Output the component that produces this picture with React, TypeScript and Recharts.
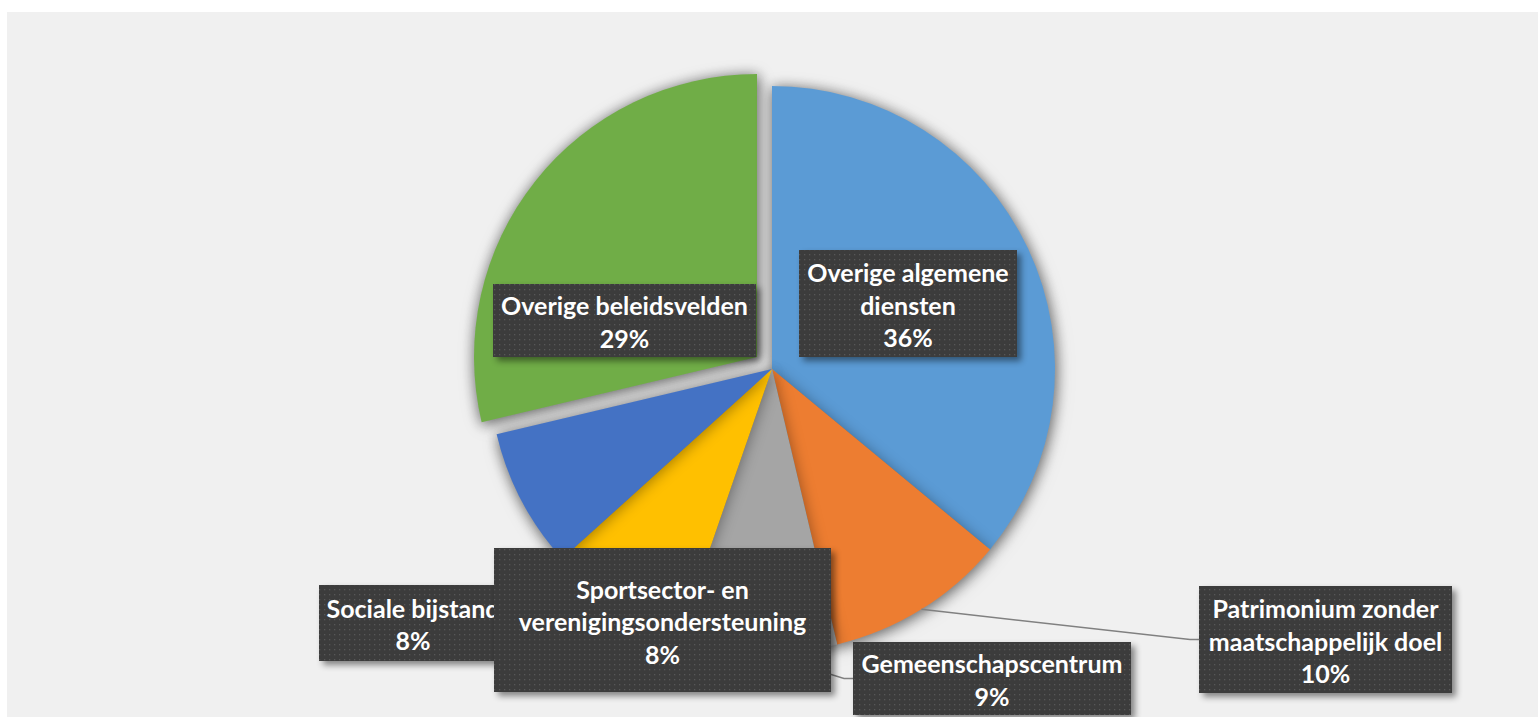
import React from 'react';
import { PieChart, Pie, Cell } from 'recharts';

// ---- data ----
const categories = [
  'Overige algemene\ndiensten',
  'Patrimonium zonder\nmaatschappelijk doel',
  'Gemeenschapscentrum',
  'Sportsector- en\nverenigingsondersteuning',
  'Sociale bijstand',
  'Overige beleidsvelden',
];
const shares = [36.0, 10.3, 9.0, 8.0, 8.0, 28.7];
const colors = ['#5B9BD5', '#ED7D31', '#A5A5A5', '#FFC000', '#4472C4', '#70AD47'];

const data = categories.map((name, i) => ({ name, value: shares[i] }));

// ---- layout ----
const W = 1531;
const H = 705;
const CX = 765;
const CY = 357;
const R = 283;
const EXPLODE = { dx: -15, dy: -12 };
const EXPLODED_INDEX = 5;
const TOP_LABEL_INDEX = 3;

// label box: centre offset from pie centre, size, leader line
const LABEL_BOX = [
  { dx: 136, dy: -65.5, w: 218, h: 107, leader: false },
  { dx: 553.5, dy: 270.5, w: 253, h: 107, leader: true },
  { dx: 220, dy: 309.5, w: 278, h: 73, leader: true },
  { dx: -109.5, dy: 251, w: 337, h: 144, leader: false },
  { dx: -359, dy: 254, w: 188, h: 76, leader: false },
  { dx: -147.5, dy: -48.5, w: 263, h: 73, leader: false },
];
const LINE_H = 32.5;
const RAD = Math.PI / 180;

const makeLabel = (show: (i: number) => boolean) => (props: any) => {
  const { cx, cy, midAngle, outerRadius, index, percent } = props;
  if (!show(index)) return null;
  const box = LABEL_BOX[index];
  const bx = cx + box.dx;
  const by = cy + box.dy;
  const left = bx - box.w / 2;
  const top = by - box.h / 2;
  const lines = [...categories[index].split('\n'), `${Math.round(percent * 100)}%`];
  const sx = cx + outerRadius * Math.cos(-midAngle * RAD);
  const sy = cy + outerRadius * Math.sin(-midAngle * RAD);
  return (
    <g key={`lbl-${index}`}>
      {box.leader && (
        <path
          d={`M${sx},${sy} L${left - 9},${by} L${left},${by}`}
          stroke="#808080"
          strokeWidth={1.5}
          fill="none"
        />
      )}
      <rect
        x={left}
        y={top}
        width={box.w}
        height={box.h}
        fill="url(#dotsPattern)"
        style={{ filter: 'drop-shadow(4px 4px 3px rgba(0,0,0,0.45))' }}
      />
      {lines.map((t, i) => (
        <text
          key={i}
          x={bx}
          y={by + 1 + (i - (lines.length - 1) / 2) * LINE_H}
          textAnchor="middle"
          dominantBaseline="central"
          fill="#ffffff"
          fontFamily="Lato, 'Open Sans', sans-serif"
          fontWeight={700}
          fontSize={25}
        >
          {t}
        </text>
      ))}
    </g>
  );
};

export default function App() {
  return (
    <div style={{ position: 'absolute', left: 0, top: 0, width: 1538, height: 717, background: '#ffffff', overflow: 'hidden' }}>
      <style>{`.pie-shadow { filter: drop-shadow(1px 2px 7px rgba(0,0,0,0.35)); }`}</style>
      <svg width={0} height={0} style={{ position: 'absolute' }}>
        <defs>
          <pattern id="dotsPattern" width={5} height={5} patternUnits="userSpaceOnUse">
            <rect width={5} height={5} fill="#3c3c3c" />
            <rect x={2} y={2} width={1.3} height={1.3} fill="#575757" />
          </pattern>
        </defs>
      </svg>
      <div style={{ position: 'absolute', left: 7, top: 12, width: W, height: H, background: '#f0f0f0' }}>
        <PieChart width={W} height={H} margin={{ top: 0, right: 0, bottom: 0, left: 0 }}>
          {/* exploded slice */}
          <Pie
            className="pie-shadow"
            data={data}
            dataKey="value"
            nameKey="name"
            cx={CX + EXPLODE.dx}
            cy={CY + EXPLODE.dy}
            outerRadius={R}
            startAngle={90}
            endAngle={-270}
            stroke="none"
            isAnimationActive={false}
            labelLine={false}
          >
            {data.map((d, i) => (
              <Cell key={i} fill={i === EXPLODED_INDEX ? colors[i] : 'none'} stroke="none" />
            ))}
          </Pie>
          {/* remaining slices */}
          <Pie
            className="pie-shadow"
            data={data}
            dataKey="value"
            nameKey="name"
            cx={CX}
            cy={CY}
            outerRadius={R}
            startAngle={90}
            endAngle={-270}
            stroke="none"
            isAnimationActive={false}
            labelLine={false}
          >
            {data.map((d, i) => (
              <Cell key={i} fill={i === EXPLODED_INDEX ? 'none' : colors[i]} stroke="none" />
            ))}
          </Pie>
          {/* labels */}
          <Pie
            data={data}
            dataKey="value"
            nameKey="name"
            cx={CX}
            cy={CY}
            outerRadius={R}
            startAngle={90}
            endAngle={-270}
            stroke="none"
            fill="none"
            isAnimationActive={false}
            labelLine={false}
            label={makeLabel((i) => i !== TOP_LABEL_INDEX)}
          >
            {data.map((d, i) => (
              <Cell key={i} fill="none" stroke="none" />
            ))}
          </Pie>
          <Pie
            data={data}
            dataKey="value"
            nameKey="name"
            cx={CX}
            cy={CY}
            outerRadius={R}
            startAngle={90}
            endAngle={-270}
            stroke="none"
            fill="none"
            isAnimationActive={false}
            labelLine={false}
            label={makeLabel((i) => i === TOP_LABEL_INDEX)}
          >
            {data.map((d, i) => (
              <Cell key={i} fill="none" stroke="none" />
            ))}
          </Pie>
        </PieChart>
      </div>
    </div>
  );
}
